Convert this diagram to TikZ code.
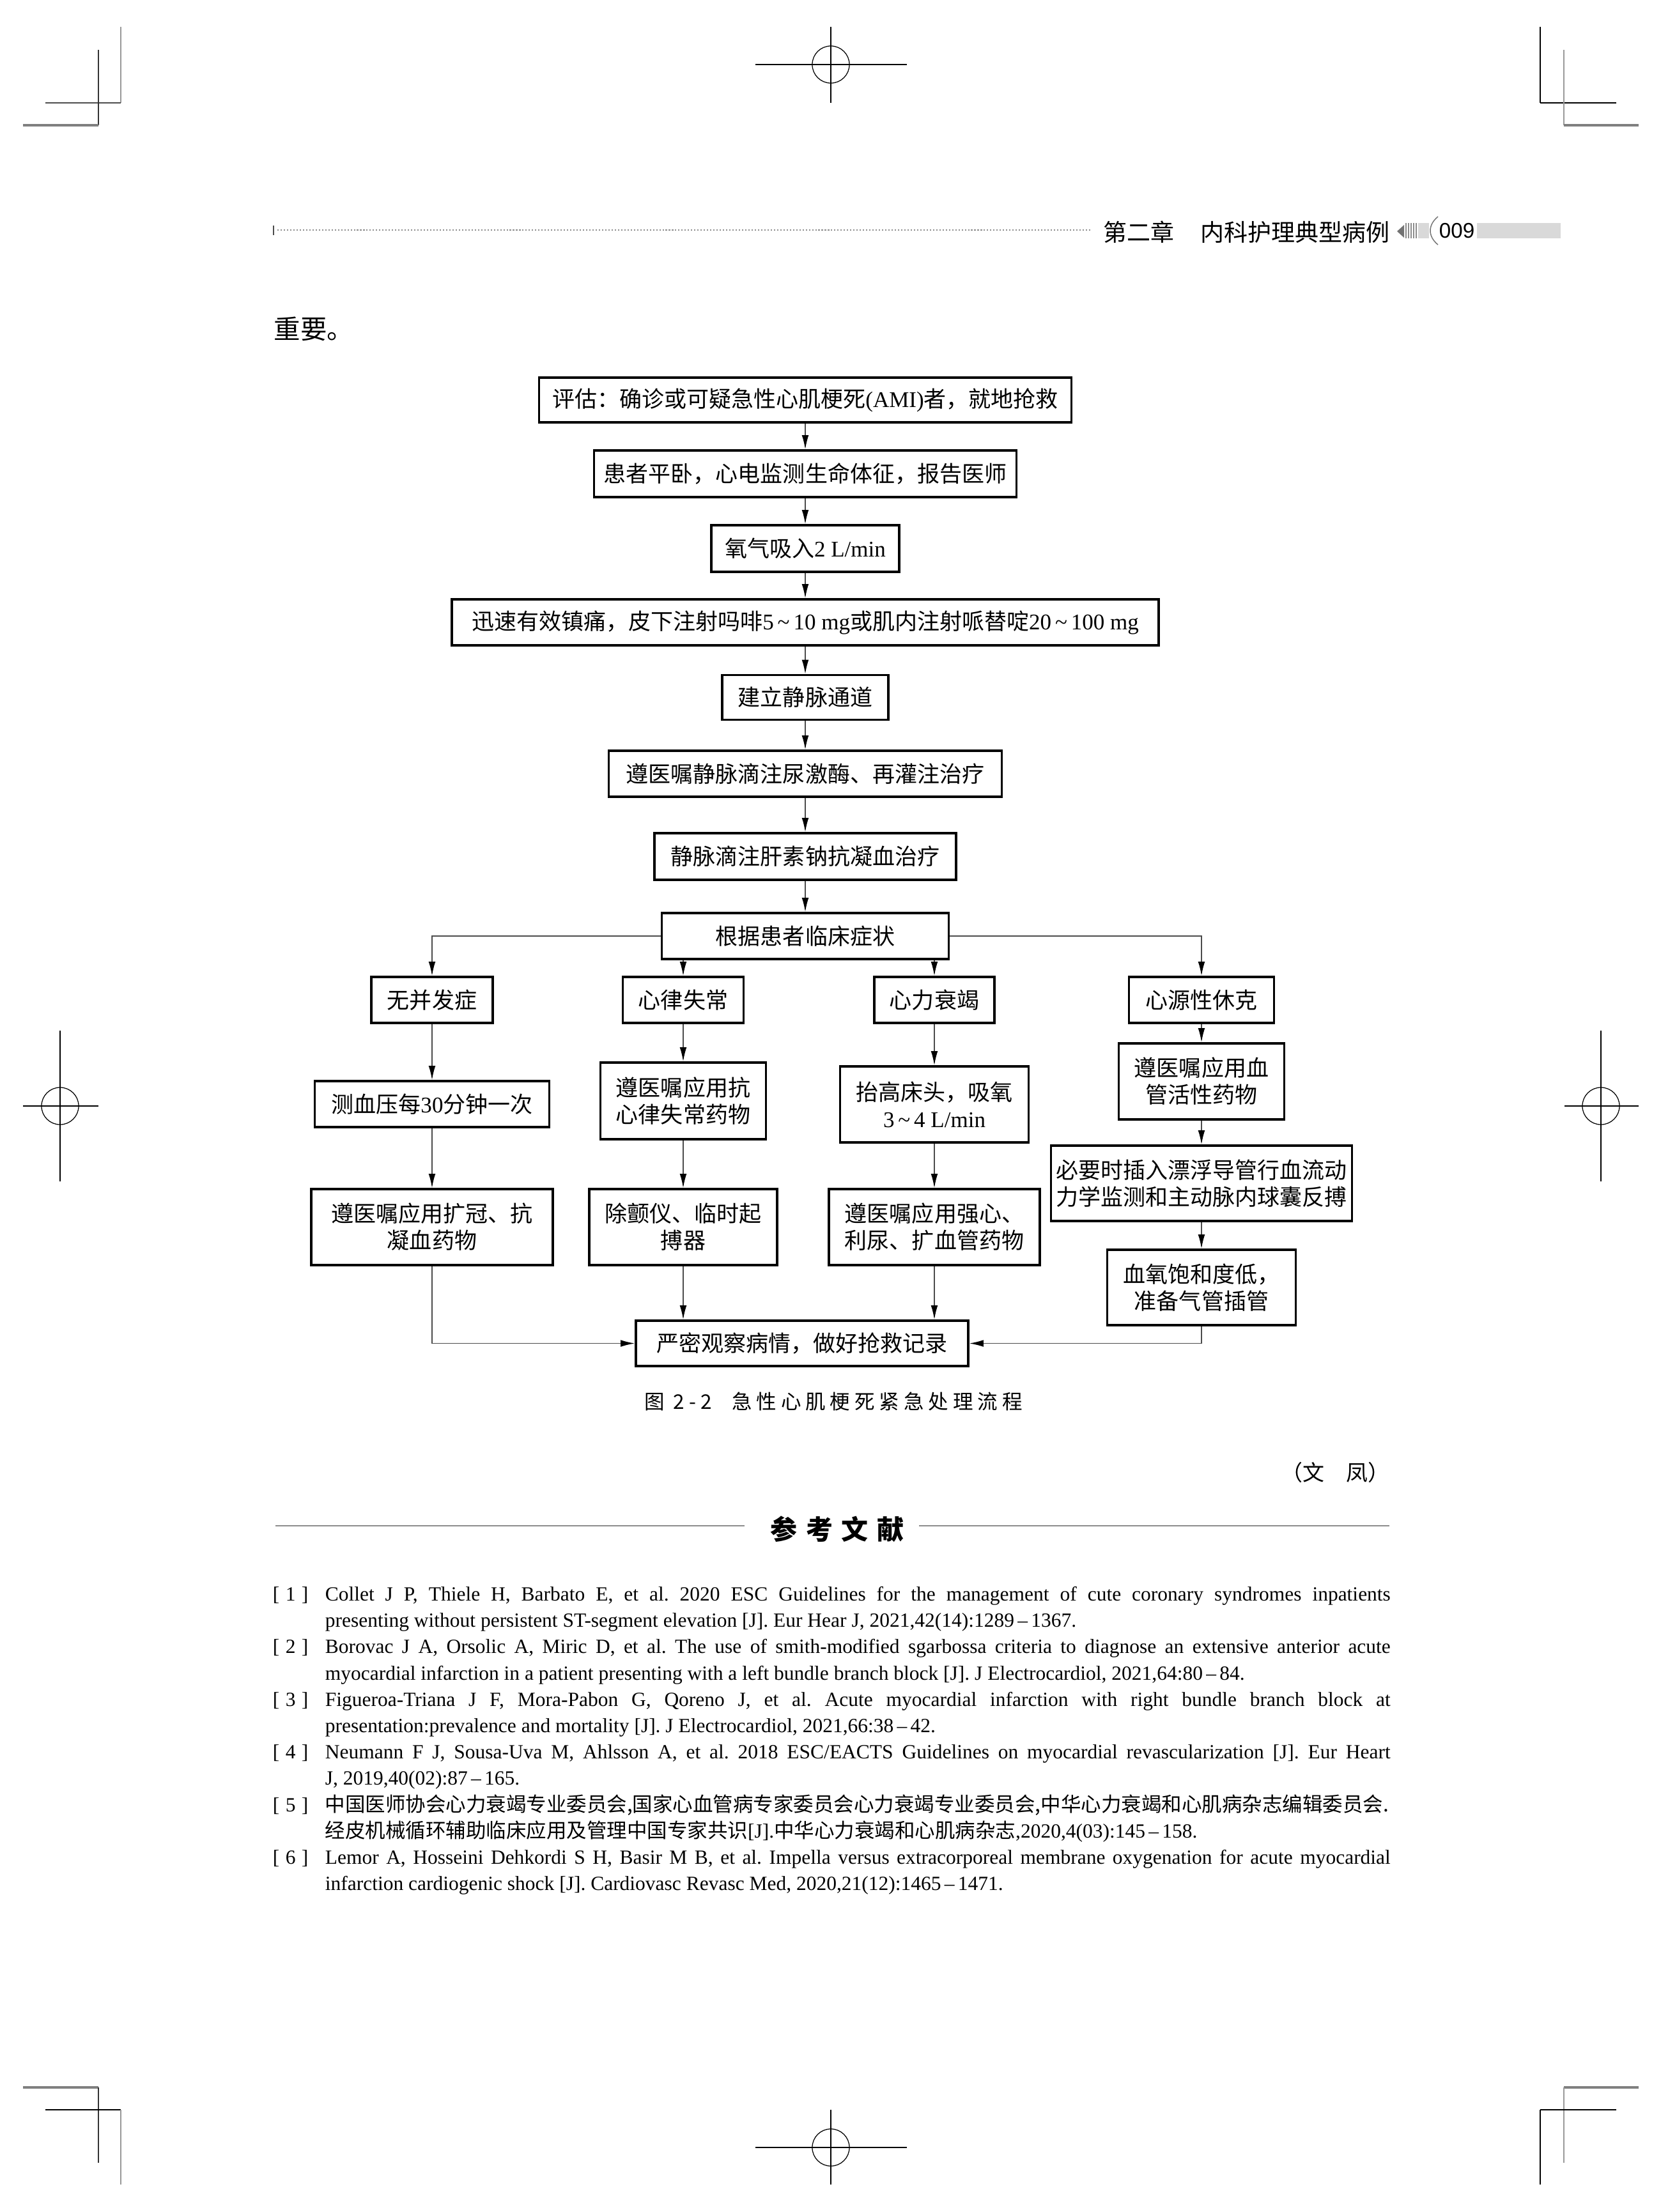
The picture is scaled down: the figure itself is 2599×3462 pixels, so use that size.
\documentclass[tikz,border=0pt]{standalone}
\usepackage{fontspec}
\setmainfont{Liberation Serif}
\newfontfamily\cjk{Noto Sans CJK SC}
\newfontfamily\capfont[LetterSpace=22]{Noto Sans CJK SC}
\newfontfamily\headfont[LetterSpace=33]{Noto Sans CJK SC}
\newfontfamily\hsans{Liberation Sans}
\usetikzlibrary{arrows.meta}
\newlength\pxu \setlength\pxu{0.241pt}
\newcommand\lat[1]{{\rmfamily #1}}
\newcommand\tld{\,\textasciitilde\,}
\newcommand\jline[2]{\node[reft, anchor=base west] (#1) at (508,#2)}
\tikzset{
  box/.style={draw=black, line width=0.75pt, inner sep=0pt, align=center,
    font={\cjk\fontsize{8.44pt}{10.12pt}\selectfont}},
  wh/.style 2 args={minimum width=#1*\pxu, minimum height=#2*\pxu},
  conn/.style={draw=black!70, line width=0.45pt},
  arr/.style={conn, -{Latex[length=5.4pt,width=2.6pt,color=black]}},
  thin/.style={line width=0.3pt},
  reft/.style={inner sep=0pt, font={\fontsize{7.59pt}{9pt}\selectfont}},
}
\begin{document}
\begin{tikzpicture}[x=\pxu,y=-\pxu]
\fill[white] (0,0) rectangle (2599,3462);
\useasboundingbox (0,0) rectangle (2599,3462);

% ---------- crop marks ----------
\draw[thin, black!40] (189,42)--(189,161);
\draw[black!70, line width=0.6pt] (71,161)--(189,161);
\draw[thin, black!80] (154,78)--(154,196);
\draw[black!50, line width=1pt] (36,196)--(154,196);
\draw[thin] (1300,42)--(1300,161);
\draw[thin] (1300,101) circle[radius=7pt];
\draw[line width=0.7pt] (1182,101)--(1419,101);
\draw[thin] (2410,42)--(2410,161);
\draw[line width=0.7pt] (2410,161)--(2529,161);
\draw[thin, black!40] (2447,78)--(2447,196);
\draw[black!50, line width=1pt] (2447,196)--(2564,196);

\draw[thin] (94,1613)--(94,1849);
\draw[thin] (94,1731) circle[radius=7pt];
\draw[line width=0.5pt] (36,1731)--(154,1731);
\draw[thin] (2505,1613)--(2505,1849);
\draw[thin] (2505,1731) circle[radius=7pt];
\draw[line width=0.5pt] (2448,1731)--(2564,1731);

\draw[black!50, line width=1pt] (36,3267)--(154,3267);
\draw[thin, black!80] (154,3267)--(154,3385);
\draw[line width=0.6pt] (71,3302)--(189,3302);
\draw[thin, black!40] (189,3302)--(189,3419);
\draw[thin] (1300,3302)--(1300,3419);
\draw[thin] (1300,3361) circle[radius=7pt];
\draw[line width=0.7pt] (1182,3361)--(1419,3361);
\draw[black!50, line width=1pt] (2447,3267)--(2564,3267);
\draw[thin, black!40] (2447,3267)--(2447,3385);
\draw[line width=0.7pt] (2410,3302)--(2529,3302);
\draw[thin] (2410,3302)--(2410,3419);

% ---------- running head ----------
\draw[black!70, line width=0.6pt] (428,353)--(428,368);
\draw[black!45, line width=0.35pt, dash pattern=on 0.5pt off 0.7pt] (434,360)--(1707,360);
\node[anchor=west, inner sep=0pt, font={\cjk\fontsize{8.92pt}{9pt}\selectfont}] (hd1) at (1726,363) {第二章};
\node[anchor=west, inner sep=0pt, font={\cjk\fontsize{8.92pt}{9pt}\selectfont}] (hd2) at (1878,363) {内科护理典型病例};
\fill[black!55] (2186,362)--(2197,352)--(2197,372)--cycle;
\foreach \xx in {2200,2204,2208,2212,2216} \draw[black!45, line width=0.3pt] (\xx,349)--(\xx,373);
\fill[black!15] (2219,349) rectangle (2236,373);
\draw[black!55, line width=0.35pt] (2250,339) .. controls (2234,352) and (2234,370) .. (2250,383);
\node[anchor=west, inner sep=0pt, font={\hsans\fontsize{8pt}{8pt}\selectfont}] (pg) at (2251,361) {009};
\fill[black!15] (2311,349) rectangle (2442,373);

% ---------- body ----------
\node[anchor=west, inner sep=0pt, font={\cjk\fontsize{10pt}{10pt}\selectfont}] (zy) at (428,515) {重要。};

% ---------- flowchart ----------
\node[box, wh={833}{70}] (b1) at (1260,626) {评估：确诊或可疑急性心肌梗死\lat{(AMI)}者，就地抢救};
\node[box, wh={661}{73}] (b2) at (1260,741.5) {患者平卧，心电监测生命体征，报告医师};
\node[box, wh={294}{73}] (b3) at (1260,858.5) {氧气吸入\lat{2 L/min}};
\node[box, wh={1106}{72}] (b4) at (1260,974) {迅速有效镇痛，皮下注射吗啡\lat{5\tld 10 mg}或肌内注射哌替啶\lat{20\tld 100 mg}};
\node[box, wh={260}{70}] (b5) at (1260,1091.5) {建立静脉通道};
\node[box, wh={615}{72}] (b6) at (1260,1211) {遵医嘱静脉滴注尿激酶、再灌注治疗};
\node[box, wh={472}{73}] (b7) at (1260,1340.5) {静脉滴注肝素钠抗凝血治疗};
\node[box, wh={449}{72}] (b8) at (1260,1465) {根据患者临床症状};

\node[box, wh={190}{72}] (A1) at (676,1565) {无并发症};
\node[box, wh={189}{72}] (B1) at (1069,1565) {心律失常};
\node[box, wh={188}{72}] (C1) at (1462,1565) {心力衰竭};
\node[box, wh={227}{72}] (D1) at (1880,1565) {心源性休克};

\node[box, wh={367}{72}] (A2) at (676,1728) {测血压每\lat{30}分钟一次};
\node[box, wh={259}{120}] (B2) at (1069,1723) {遵医嘱应用抗\\心律失常药物};
\node[box, wh={295}{119}] (C2) at (1462,1728.5) {抬高床头，吸氧\\\lat{3\tld 4 L/min}};
\node[box, wh={259}{119}] (D2) at (1880,1692.5) {遵医嘱应用血\\管活性药物};
\node[box, wh={471}{118}] (D3) at (1880,1852) {必要时插入漂浮导管行血流动\\力学监测和主动脉内球囊反搏};

\node[box, wh={378}{119}] (A3) at (676,1920.5) {遵医嘱应用扩冠、抗\\凝血药物};
\node[box, wh={294}{119}] (B3) at (1069,1920.5) {除颤仪、临时起\\搏器};
\node[box, wh={330}{119}] (C3) at (1462,1920.5) {遵医嘱应用强心、\\利尿、扩血管药物};
\node[box, wh={295}{118}] (D4) at (1880,2015) {血氧饱和度低，\\准备气管插管};
\node[box, wh={520}{71}] (E) at (1255,2102.5) {严密观察病情，做好抢救记录};

\draw[arr] (b1) -- (b2);
\draw[arr] (b2) -- (b3);
\draw[arr] (b3) -- (b4);
\draw[arr] (b4) -- (b5);
\draw[arr] (b5) -- (b6);
\draw[arr] (b6) -- (b7);
\draw[arr] (b7) -- (b8);
\draw[arr] (b8.west) -| (A1.north);
\draw[arr] (b8.east) -| (D1.north);
\draw[arr] (b8.south -| B1.north) -- (B1.north);
\draw[arr] (b8.south -| C1.north) -- (C1.north);
\draw[arr] (A1) -- (A2);
\draw[arr] (A2) -- (A3);
\draw[arr] (B1) -- (B2);
\draw[arr] (B2) -- (B3);
\draw[arr] (C1) -- (C2);
\draw[arr] (C2) -- (C3);
\draw[arr] (D1) -- (D2);
\draw[arr] (D2) -- (D3);
\draw[arr] (D3) -- (D4);
\draw[arr] (A3.south) |- (E.west);
\draw[arr] (D4.south) |- (E.east);
\draw[arr] (B3.south) -- (B3.south |- E.north);
\draw[arr] (C3.south) -- (C3.south |- E.north);

\node[inner sep=0pt, font={\capfont\fontsize{7.6pt}{8pt}\selectfont}] (cap) at (1304,2194) {图 2-2\quad 急性心肌梗死紧急处理流程};

\node[anchor=east, inner sep=0pt, font={\cjk\fontsize{8.19pt}{9pt}\selectfont}] (au) at (2175,2305) {（文　凤）};

% ---------- references ----------
\node[inner sep=0pt, font={\headfont\bfseries\fontsize{10.12pt}{11pt}\selectfont}] (ckwx) at (1310,2393) {参考文献};
\draw[black!45, line width=0.5pt] (431,2388)--(1165,2388);
\draw[black!45, line width=0.5pt] (1438,2388)--(2174,2388);

\begin{scope}[every node/.append style={reft}]
\node[anchor=base west] (n1) at (426,2505) {[\hspace{0.3em}1\hspace{0.3em}]};
\node[anchor=base west] (n2) at (426,2587) {[\hspace{0.3em}2\hspace{0.3em}]};
\node[anchor=base west] (n3) at (426,2670) {[\hspace{0.3em}3\hspace{0.3em}]};
\node[anchor=base west] (n4) at (426,2752) {[\hspace{0.3em}4\hspace{0.3em}]};
\node[anchor=base west] (n5) at (426,2835) {[\hspace{0.3em}5\hspace{0.3em}]};
\node[anchor=base west] (n6) at (426,2917) {[\hspace{0.3em}6\hspace{0.3em}]};
\end{scope}

\jline{r1}{2505}{\hbox to 1667\pxu{\frenchspacing\spaceskip=0.25em plus 0.6em minus 0.12em Collet J P, Thiele H, Barbato E, et al. 2020 ESC Guidelines for the management of cute coronary syndromes inpatients}};
\jline{r2}{2546}{presenting without persistent ST-segment elevation [J]. Eur Hear J, 2021,42(14):1289\,--\,1367.};
\jline{r3}{2587}{\hbox to 1667\pxu{\frenchspacing\spaceskip=0.25em plus 0.6em minus 0.12em Borovac J A, Orsolic A, Miric D, et al. The use of smith-modified sgarbossa criteria to diagnose an extensive anterior acute}};
\jline{r4}{2629}{myocardial infarction in a patient presenting with a left bundle branch block [J]. J Electrocardiol, 2021,64:80\,--\,84.};
\jline{r5}{2670}{\hbox to 1667\pxu{\frenchspacing\spaceskip=0.25em plus 0.6em minus 0.12em Figueroa-Triana J F, Mora-Pabon G, Qoreno J, et al. Acute myocardial infarction with right bundle branch block at}};
\jline{r6}{2711}{presentation:prevalence and mortality [J]. J Electrocardiol, 2021,66:38\,--\,42.};
\jline{r7}{2752}{\hbox to 1667\pxu{\frenchspacing\spaceskip=0.25em plus 0.6em minus 0.12em Neumann F J, Sousa-Uva M, Ahlsson A, et al. 2018 ESC/EACTS Guidelines on myocardial revascularization [J]. Eur Heart}};
\jline{r8}{2793}{J, 2019,40(02):87\,--\,165.};
\jline{r9}{2835}{\hbox to 1667\pxu{\cjk\XeTeXlinebreaklocale "zh"\XeTeXlinebreakskip=0pt plus 1pt minus 0.3pt 中国医师协会心力衰竭专业委员会,国家心血管病专家委员会心力衰竭专业委员会,中华心力衰竭和心肌病杂志编辑委员会.}};
\jline{r10}{2876}{{\cjk 经皮机械循环辅助临床应用及管理中国专家共识}[J].{\cjk 中华心力衰竭和心肌病杂志},2020,4(03):145\,--\,158.};
\jline{r11}{2917}{\hbox to 1667\pxu{\frenchspacing\spaceskip=0.25em plus 0.6em minus 0.12em Lemor A, Hosseini Dehkordi S H, Basir M B, et al. Impella versus extracorporeal membrane oxygenation for acute myocardial}};
\jline{r12}{2958}{infarction cardiogenic shock [J]. Cardiovasc Revasc Med, 2020,21(12):1465\,--\,1471.};
\end{tikzpicture}
\end{document}
